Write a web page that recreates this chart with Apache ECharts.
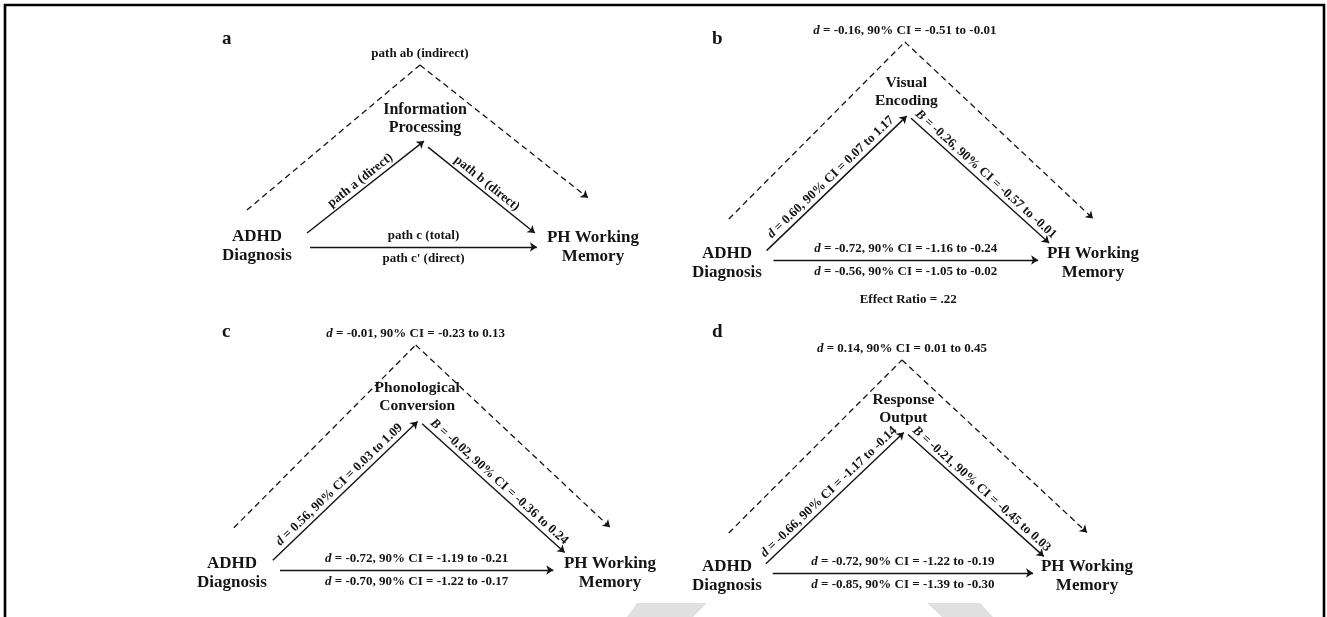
<!DOCTYPE html>
<html>
<head>
<meta charset="utf-8">
<title>ADHD - PH working memory mediation models</title>
<script src="https://cdn.jsdelivr.net/npm/echarts@6/dist/echarts.min.js"></script>
<style>
  html, body { margin: 0; padding: 0; background: #fff; }
  #main { width: 1327px; height: 617px; }
</style>
</head>
<body>
<div id="main"></div>
<script>
var panelLetters = ['a', 'b', 'c', 'd'];
var predictor = 'ADHD\nDiagnosis';
var outcome = 'PH Working\nMemory';
var mediators = ['Information\nProcessing', 'Visual\nEncoding', 'Phonological\nConversion', 'Response\nOutput'];

// panel a is the generic model, only path names
var pathNames = {
  a: 'path a (direct)',
  b: 'path b (direct)',
  c: 'path c (total)',
  cp: "path c' (direct)",
  ab: 'path ab (indirect)'
};

// panels b-d : [estimate, 90% CI low, 90% CI high]
var pathA = [[0.60, 0.07, 1.17], [0.56, 0.03, 1.09], [-0.66, -1.17, -0.14]];
var pathB = [[-0.26, -0.57, -0.01], [-0.02, -0.36, 0.24], [-0.21, -0.45, 0.03]];
var pathC = [[-0.72, -1.16, -0.24], [-0.72, -1.19, -0.21], [-0.72, -1.22, -0.19]];
var pathCp = [[-0.56, -1.05, -0.02], [-0.70, -1.22, -0.17], [-0.85, -1.39, -0.30]];
var pathAB = [[-0.16, -0.51, -0.01], [-0.01, -0.23, 0.13], [0.14, 0.01, 0.45]];
var effectRatio = [0.22, null, null];

var ink = '#141414';
var serif = "'Liberation Serif', 'Times New Roman', serif";

// triangle layout in axis units (0-100 each way)
var layoutA = {
  dashL: [[-3, 20.3], [48.5, 100]],
  dashR: [[48.5, 100], [98.5, 27]],
  a: [[14.9, 7.7], [49.7, 58.2]],
  b: [[50.9, 54.9], [82.7, 7.7]],
  c: [[15.8, 0], [83.3, 0]],
  x: [0, 0.3], y: [100, 0], m: [50, 70.6], top: [48.5, 100], note: [49.5, -18.5]
};
var layoutMain = {
  dashL: [[0.5, 18.8], [48.6, 100]],
  dashR: [[48.6, 100], [100, 19]],
  a: [[10.8, 4.3], [49.1, 66]],
  b: [[50.3, 65], [88, 7.8]],
  c: [[12.7, 0], [85, 0]],
  x: [0, -1.5], y: [100, -1.5], m: [49, 77], top: [48.6, 100], note: [49.5, -18.3]
};
var boxes = [
  {left: 257, top: 65, width: 336, height: 182},
  {left: 727, top: 42, width: 366, height: 218},
  {left: 232, top: 345, width: 378, height: 225},
  {left: 727, top: 360, width: 360, height: 213}
];
var letterPos = [[222, 30], [712, 30], [222, 323], [712, 323]];

function ci(stat, v) {
  return '{i|' + stat + '} = ' + v[0].toFixed(2) + ', 90% CI = ' + v[1].toFixed(2) + ' to ' + v[2].toFixed(2);
}

var rich = {
  i: {fontStyle: 'italic', fontWeight: 'bold', fontFamily: serif, fontSize: 13, color: ink}
};

var texts = panelLetters.map(function (p, i) {
  if (i == 0) {
    return {a: pathNames.a, b: pathNames.b, c: pathNames.c, cp: pathNames.cp, ab: pathNames.ab, note: ''};
  }
  var k = i - 1;
  return {
    a: ci('d', pathA[k]),
    b: ci('B', pathB[k]),
    c: ci('d', pathC[k]),
    cp: ci('d', pathCp[k]),
    ab: ci('d', pathAB[k]),
    note: effectRatio[k] != null ? 'Effect Ratio = ' + effectRatio[k].toFixed(2).replace(/^0/, '') : ''
  };
});

var grids = [], xAxes = [], yAxes = [], series = [];

panelLetters.forEach(function (p, i) {
  var L = i == 0 ? layoutA : layoutMain;
  var t = texts[i];
  grids.push(boxes[i]);
  xAxes.push({type: 'value', gridIndex: i, min: 0, max: 100, show: false});
  yAxes.push({type: 'value', gridIndex: i, min: 0, max: 100, show: false});

  var dash = {type: [6, 4], width: 1.3};
  series.push({
    type: 'lines',
    coordinateSystem: 'cartesian2d',
    xAxisIndex: i,
    yAxisIndex: i,
    clip: false,
    silent: true,
    symbol: ['none', 'arrow'],
    symbolSize: [0, 7],
    lineStyle: {color: ink, width: 1.4, opacity: 1, curveness: 0},
    label: {
      show: true, color: ink, fontFamily: serif, fontWeight: 'bold', fontSize: 13, rich: rich
    },
    data: [
      {coords: L.dashL, symbol: 'none', lineStyle: dash, label: {show: false}},
      {coords: L.dashR, lineStyle: dash, label: {show: false}},
      {coords: L.a, label: {position: 'insideMiddleTop', distance: 2, formatter: t.a}},
      {coords: L.b, label: {position: 'insideMiddleTop', distance: 2, formatter: t.b}},
      {coords: L.c, label: {position: 'insideMiddleTop', distance: 5, formatter: t.c}},
      {coords: L.c, symbol: 'none', lineStyle: {width: 0}, label: {position: 'insideMiddleBottom', distance: 5, formatter: t.cp}}
    ]
  });

  var nodes = [
    {name: predictor, value: L.x, label: {fontSize: 17, lineHeight: 19}},
    {name: outcome, value: L.y, label: {fontSize: 17, lineHeight: 19}},
    {name: mediators[i], value: L.m, label: {fontSize: i == 0 ? 16 : 15.5, lineHeight: 18}},
    {name: t.ab, value: L.top, label: {position: 'top', distance: 4, fontSize: 13}}
  ];
  if (t.note) {
    nodes.push({name: t.note, value: L.note, label: {fontSize: 13}});
  }
  series.push({
    type: 'scatter',
    xAxisIndex: i,
    yAxisIndex: i,
    clip: false,
    silent: true,
    symbolSize: 1,
    itemStyle: {color: 'rgba(0,0,0,0)', opacity: 1},
    label: {
      show: true, position: 'inside', formatter: '{b}', color: ink,
      fontFamily: serif, fontWeight: 'bold', rich: rich
    },
    data: nodes
  });
});

var myChart = echarts.init(document.getElementById('main'));
myChart.setOption({
  backgroundColor: '#fff',
  animation: false,
  title: panelLetters.map(function (p, i) {
    return {
      text: p, left: letterPos[i][0], top: letterPos[i][1], padding: 0,
      textStyle: {fontFamily: serif, fontWeight: 'bold', fontSize: 19, color: ink}
    };
  }),
  grid: grids,
  xAxis: xAxes,
  yAxis: yAxes,
  series: series,
  graphic: [
    // page frame
    {type: 'polyline', shape: {points: [[5, 620], [5, 5], [1324, 5], [1324, 620]]}, style: {stroke: '#000', lineWidth: 2.6, fill: null}},
    // faint watermark pieces at the bottom
    {type: 'polygon', shape: {points: [[637, 603], [707, 603], [693, 617], [627, 617]]}, style: {fill: '#e0e0e0'}},
    {type: 'polygon', shape: {points: [[927, 603], [980, 603], [993, 617], [942, 617]]}, style: {fill: '#e0e0e0'}}
  ]
});
</script>
</body>
</html>
